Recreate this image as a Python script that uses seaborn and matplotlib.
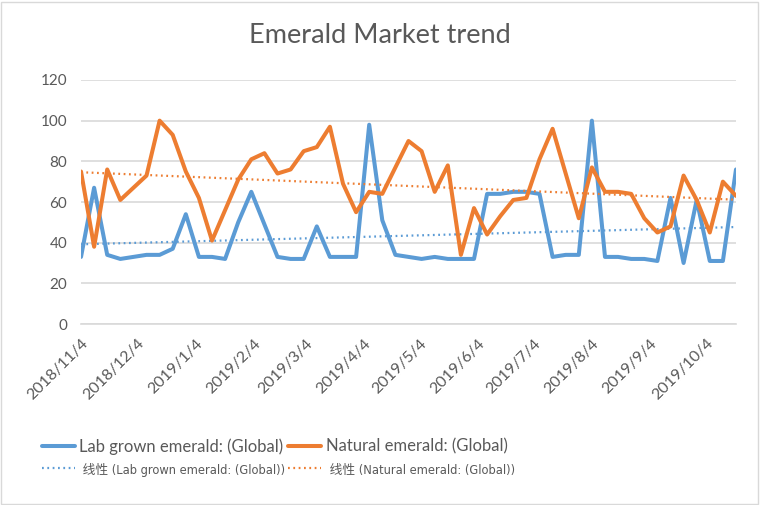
import numpy as np
import pandas as pd
import seaborn as sns
import matplotlib.pyplot as plt
from matplotlib.patches import Rectangle
from matplotlib import font_manager

# weekly values, starting 2018/11/4
start_date = "2018-11-04"
lab_grown = [33, 67, 34, 32, 33, 34, 34, 37, 54, 33,
             33, 32, 50, 65, 49, 33, 32, 32, 48, 33,
             33, 33, 98, 51, 34, 33, 32, 33, 32, 32,
             32, 64, 64, 65, 65, 64, 33, 34, 34, 100,
             33, 33, 32, 32, 31, 62, 30, 61, 31, 31,
             76]
natural = [75, 38, 76, 61, 67, 73, 100, 93, 75, 62,
           41, 56, 71, 81, 84, 74, 76, 85, 87, 97,
           69, 55, 65, 64, 77, 90, 85, 65, 78, 34,
           57, 44, 53, 61, 62, 81, 96, 74, 52, 77,
           65, 65, 64, 52, 45, 48, 73, 61, 45, 70,
           63]
series_names = ["Lab grown emerald: (Global)", "Natural emerald: (Global)"]
trend_prefix = "线性"
title = "Emerald Market trend"

dates = pd.date_range(start_date, periods=len(lab_grown), freq="7D")
df = pd.DataFrame({"date": dates, "lab": lab_grown, "natural": natural})

blue = "#5B9BD5"
orange = "#ED7D31"
text_gray = "#595959"
grid_gray = "#D9D9D9"

sns.set_style("white")
plt.rcParams["font.family"] = ["Lato", "Noto Sans CJK SC", "DejaVu Sans"]

# the trendline entries use a narrower face in the original
fonts = font_manager.fontManager.ttflist
narrow = dict(family=["Lato", "Noto Sans CJK SC"], stretch="normal", size=9.2)
if any(f.name == "Liberation Sans Narrow" for f in fonts):
    narrow = dict(family=["Liberation Sans Narrow", "Noto Sans CJK SC"], stretch="condensed", size=10.5)
elif any(f.name == "DejaVu Sans" and f.stretch == "condensed" for f in fonts):
    narrow = dict(family=["DejaVu Sans", "Noto Sans CJK SC"], stretch="condensed", size=9.2)

fig = plt.figure(figsize=(7.6, 5.05), dpi=100)
ax = fig.add_axes([0.1066, 0.3584, 0.8618, 0.4832])

# trend lines (least squares on the date values, like Excel)
xnum = (dates - dates[0]).days.values.astype(float)
lab_fit = np.polyval(np.polyfit(xnum, df["lab"], 1), xnum)
nat_fit = np.polyval(np.polyfit(xnum, df["natural"], 1), xnum)

dots = (0, (0.8, 1.6))
sns.lineplot(x=df["date"], y=df["lab"], ax=ax, color=blue, lw=2.9,
             label=series_names[0])
sns.lineplot(x=df["date"], y=lab_fit, ax=ax, color=blue, lw=1.6,
             linestyle=dots, label=f" {trend_prefix} ({series_names[0]})")
sns.lineplot(x=df["date"], y=df["natural"], ax=ax, color=orange, lw=2.9,
             label=series_names[1])
sns.lineplot(x=df["date"], y=nat_fit, ax=ax, color=orange, lw=1.6,
             linestyle=dots, label=f" {trend_prefix} ({series_names[1]})")

ax.set_xlim(dates[0], dates[-1])
ax.set_ylim(0, 120)
ax.set_yticks(range(0, 121, 20))
ax.yaxis.grid(True, color=grid_gray, lw=1.2)
ax.set_axisbelow(True)

month_ticks = pd.date_range("2018-11-01", "2019-10-01", freq="MS") + pd.Timedelta(days=3)
ax.set_xticks(month_ticks)
ax.set_xticklabels([f"{d.year}/{d.month}/{d.day}" for d in month_ticks],
                   rotation=45, ha="right", rotation_mode="anchor")

for s in ["top", "right", "left"]:
    ax.spines[s].set_visible(False)
ax.spines["bottom"].set_color(grid_gray)
ax.spines["bottom"].set_linewidth(1.2)
ax.tick_params(axis="x", direction="out", length=6, width=1.2, color=grid_gray,
               labelsize=11.5, labelcolor=text_gray, pad=3)
ax.tick_params(axis="y", length=0, labelsize=11, labelcolor=text_gray, pad=10)
ax.set_xlabel("")
ax.set_ylabel("")

ax.get_legend().remove()
handles, labels = ax.get_legend_handles_labels()
leg_opts = dict(loc="upper left", frameon=False, fontsize=12, labelcolor=text_gray,
                handlelength=2.0, handletextpad=0.25, labelspacing=0.45, borderaxespad=0,
                borderpad=0)
leg1 = fig.legend(handles[:2], labels[:2], bbox_to_anchor=(0.055, 0.132), **leg_opts)
leg2 = fig.legend(handles[2:], labels[2:], bbox_to_anchor=(0.379, 0.132), **leg_opts)
for leg in (leg1, leg2):
    t = leg.get_texts()[1]
    t.set_fontfamily(narrow["family"])
    t.set_fontstretch(narrow["stretch"])
    t.set_fontsize(narrow["size"])

fig.text(0.5, 0.93, title, ha="center", va="center", fontsize=19.5, color=text_gray)

fig.patches.append(Rectangle((0.001, 0.001), 0.996, 0.996, transform=fig.transFigure,
                             fill=False, edgecolor="#D9D9D9", lw=1))

fig.savefig("out.png", dpi=100)
